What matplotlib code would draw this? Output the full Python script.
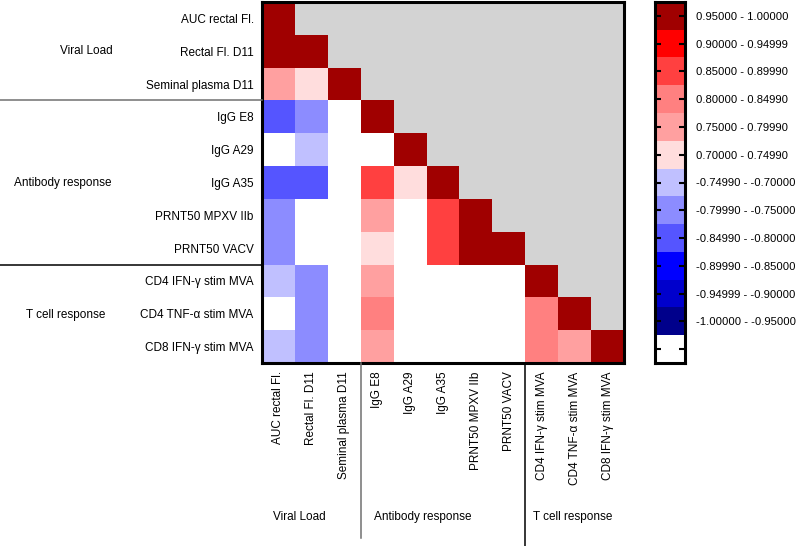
import numpy as np
import matplotlib
matplotlib.use("Agg")
import matplotlib.pyplot as plt
from matplotlib.colors import ListedColormap, BoundaryNorm
from matplotlib.transforms import blended_transform_factory
from matplotlib.lines import Line2D

plt.rcParams['font.family'] = ['Liberation Sans', 'DejaVu Sans']

labels = ["AUC rectal Fl.", "Rectal Fl. D11", "Seminal plasma D11", "IgG E8", "IgG A29",
          "IgG A35", "PRNT50 MPXV IIb", "PRNT50 VACV", "CD4 IFN-γ stim MVA",
          "CD4 TNF-α stim MVA", "CD8 IFN-γ stim MVA"]
groups = ["Viral Load", "Antibody response", "T cell response"]
group_sizes = [3, 5, 3]

# lower-triangle correlations (0 = not significant / white)
corr_rows = [
    [1.00],
    [0.97, 1.00],
    [0.77, 0.72, 1.00],
    [-0.82, -0.77, 0, 1.00],
    [0, -0.72, 0, 0, 1.00],
    [-0.82, -0.82, 0, 0.87, 0.72, 1.00],
    [-0.77, 0, 0, 0.77, 0, 0.87, 1.00],
    [-0.77, 0, 0, 0.72, 0, 0.87, 0.96, 1.00],
    [-0.72, -0.77, 0, 0.77, 0, 0, 0, 0, 1.00],
    [0, -0.77, 0, 0.82, 0, 0, 0, 0, 0.82, 1.00],
    [-0.72, -0.77, 0, 0.77, 0, 0, 0, 0, 0.82, 0.77, 1.00],
]

bounds = [-1.0, -0.95, -0.90, -0.85, -0.80, -0.75, -0.70, 0.70, 0.75, 0.80, 0.85, 0.90, 0.95, 1.0001]
bin_colors = ['#00008B', '#0000CC', '#0000FF', '#5555FF', '#8C8CFF', '#C0C0FF', '#FFFFFF',
              '#FFDDDD', '#FFA0A0', '#FF8080', '#FF4040', '#FF0000', '#A00000']
legend_labels = ["0.95000 - 1.00000", "0.90000 - 0.94999", "0.85000 - 0.89990",
                 "0.80000 - 0.84990", "0.75000 - 0.79990", "0.70000 - 0.74990",
                 "-0.74990 - -0.70000", "-0.79990 - -0.75000", "-0.84990 - -0.80000",
                 "-0.89990 - -0.85000", "-0.94999 - -0.90000", "-1.00000 - -0.95000", ""]
legend_colors = ['#A00000', '#FF0000', '#FF4040', '#FF8080', '#FFA0A0', '#FFDDDD',
                 '#C0C0FF', '#8C8CFF', '#5555FF', '#0000FF', '#0000CC', '#00008B', '#FFFFFF']

n = len(labels)
M = np.full((n, n), np.nan)
for i, row in enumerate(corr_rows):
    for j, v in enumerate(row):
        M[i, j] = v

W, H = 799, 546
fig = plt.figure(figsize=(W / 100, H / 100), dpi=100)

def rect(x0, y0, x1, y1):
    return [x0 / W, 1 - y1 / H, (x1 - x0) / W, (y1 - y0) / H]

ax = fig.add_axes(rect(262, 2, 624, 363))
cmap = ListedColormap(bin_colors)
cmap.set_bad('#D3D3D3')
norm = BoundaryNorm(bounds, cmap.N)
ax.pcolormesh(np.arange(n + 1), np.arange(n + 1), np.ma.masked_invalid(M), cmap=cmap, norm=norm)
ax.set_xlim(0, n)
ax.set_ylim(n, 0)
ax.set_xticks(np.arange(n) + 0.5)
ax.set_xticklabels(labels, rotation=90, fontsize=8.5)
ax.set_yticks(np.arange(n) + 0.5)
ax.set_yticklabels(labels, fontsize=8.5)
ax.tick_params(length=0, pad=6)
for s in ax.spines.values():
    s.set_linewidth(2.2)

# group separators
bounds_idx = np.cumsum(group_sizes)[:-1]
tr_y = blended_transform_factory(fig.transFigure, ax.transData)
tr_x = blended_transform_factory(ax.transData, fig.transFigure)
sep_cols = ['#707070', 'black']
for k, b in enumerate(bounds_idx):
    fig.add_artist(Line2D([0, 262 / W], [b, b], transform=tr_y, color=sep_cols[k], lw=1.1))
    ybot = 8 / H if k == 0 else 0
    fig.add_artist(Line2D([b, b], [1 - 363 / H, ybot], transform=tr_x, color=sep_cols[k], lw=1.1))

left_pos = [(86, 51), (63, 183), (66, 315)]
bottom_pos = [(299, 517), (423, 517), (573, 517)]
for g, (x, y) in zip(groups, left_pos):
    fig.text(x / W, 1 - y / H, g, ha='center', va='center', fontsize=8.5)
for g, (x, y) in zip(groups, bottom_pos):
    fig.text(x / W, 1 - y / H, g, ha='center', va='center', fontsize=8.5)

# legend colour bar
cax = fig.add_axes(rect(655, 2, 685, 363))
nb = len(legend_colors)
cax.imshow(np.arange(nb).reshape(-1, 1), cmap=ListedColormap(legend_colors), aspect='auto',
           extent=(0, 1, nb, 0), interpolation='nearest')
cax.set_xlim(0, 1)
cax.set_ylim(nb, 0)
cax.set_xticks([])
cax.set_yticks(np.arange(nb) + 0.5)
cax.set_yticklabels(legend_labels, fontsize=8.1)
cax.yaxis.tick_right()
cax.tick_params(axis='y', direction='in', left=True, right=True, length=4, width=1.5, pad=8)
for s in cax.spines.values():
    s.set_linewidth(2.2)

fig.savefig("out.png", dpi=100)
